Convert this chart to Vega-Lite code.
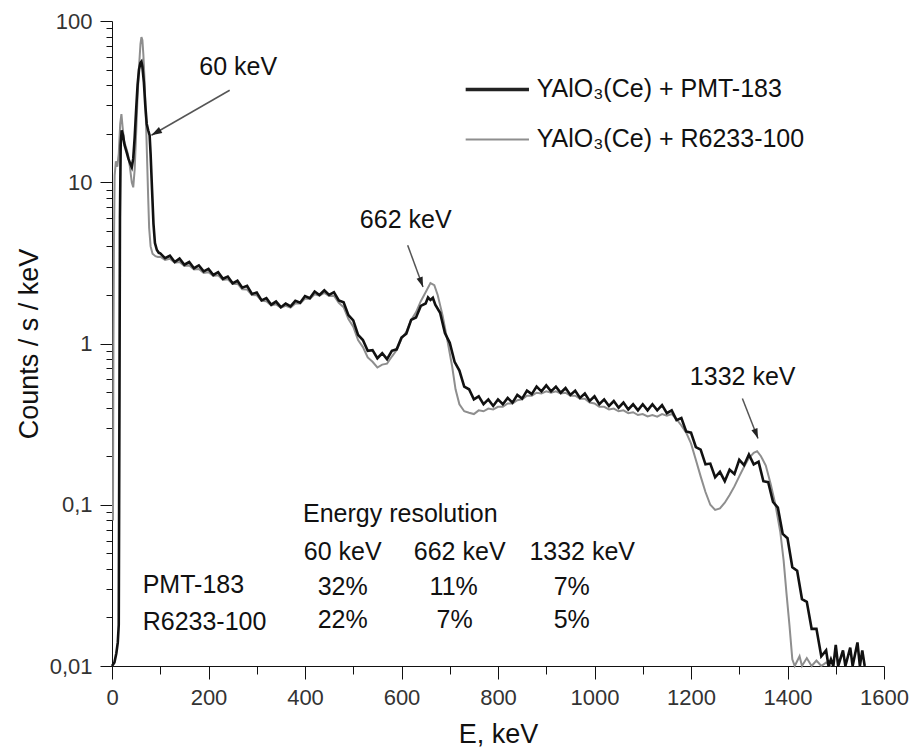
{
  "$schema": "https://vega.github.io/schema/vega-lite/v6.json",
  "width": 772,
  "height": 645,
  "autosize": {"type": "none"},
  "padding": {"left": 112, "top": 21, "right": 30, "bottom": 85},
  "view": {"stroke": null},
  "resolve": {"axis": {"x": "independent", "y": "independent"}},
  "datasets": {
    "black": [
      {"E":0,"V":0.01},{"E":5,"V":0.0105},{"E":9,"V":0.012},{"E":12,"V":0.014},{"E":14,"V":0.018},{"E":15.5,"V":0.5},{"E":16.5,"V":6},{"E":18,"V":17},{"E":20,"V":21},{"E":23,"V":19.5},{"E":26,"V":17},{"E":30,"V":15.5},{"E":34,"V":14},{"E":38,"V":13},{"E":41,"V":12.4},{"E":44,"V":14},{"E":47,"V":19},{"E":50,"V":28},{"E":53,"V":40},{"E":56,"V":50},{"E":59,"V":55},{"E":61,"V":56},{"E":63,"V":52},{"E":66,"V":42},{"E":69,"V":30},{"E":72,"V":23},{"E":75,"V":21},{"E":78,"V":19.5},{"E":80,"V":15},{"E":83,"V":9},{"E":86,"V":5.5},{"E":89,"V":4.2},{"E":93,"V":3.8},{"E":97,"V":3.65},
      {"E":100,"V":3.62},{"E":110,"V":3.38},{"E":120,"V":3.5},{"E":130,"V":3.2},{"E":140,"V":3.36},{"E":150,"V":3.08},{"E":160,"V":3.2},{"E":170,"V":2.93},{"E":180,"V":3.05},{"E":190,"V":2.8},{"E":200,"V":2.9},{"E":210,"V":2.66},{"E":220,"V":2.77},{"E":230,"V":2.52},{"E":240,"V":2.6},{"E":250,"V":2.36},{"E":260,"V":2.45},{"E":270,"V":2.22},{"E":280,"V":2.28},{"E":290,"V":2.03},{"E":300,"V":2.07},{"E":310,"V":1.85},{"E":320,"V":1.91},{"E":330,"V":1.74},{"E":340,"V":1.82},{"E":350,"V":1.68},{"E":360,"V":1.77},{"E":370,"V":1.7},{"E":380,"V":1.84},{"E":390,"V":1.79},{"E":400,"V":1.97},{"E":410,"V":1.91},{"E":420,"V":2.1},{"E":430,"V":2.0},{"E":440,"V":2.14},{"E":450,"V":2.0},{"E":460,"V":2.08},{"E":470,"V":1.85},{"E":480,"V":1.8},{"E":490,"V":1.5},{"E":500,"V":1.39},{"E":510,"V":1.13},{"E":520,"V":1.05},{"E":530,"V":0.9},{"E":540,"V":0.91},{"E":550,"V":0.81},{"E":560,"V":0.87},{"E":570,"V":0.8},{"E":580,"V":0.9},{"E":590,"V":0.92},{"E":600,"V":1.09},{"E":610,"V":1.15},{"E":620,"V":1.4},{"E":630,"V":1.45},{"E":640,"V":1.71},{"E":650,"V":1.77},{"E":655,"V":1.93},{"E":660,"V":1.86},{"E":665,"V":1.92},{"E":670,"V":1.74},{"E":680,"V":1.55},{"E":690,"V":1.16},{"E":700,"V":1.01},{"E":710,"V":0.77},{"E":720,"V":0.68},{"E":730,"V":0.54},{"E":740,"V":0.52},{"E":750,"V":0.45},{"E":760,"V":0.47},{"E":770,"V":0.42},{"E":780,"V":0.45},{"E":790,"V":0.41},{"E":800,"V":0.45},{"E":810,"V":0.42},{"E":820,"V":0.46},{"E":830,"V":0.43},{"E":840,"V":0.48},{"E":850,"V":0.455},{"E":860,"V":0.51},{"E":870,"V":0.485},{"E":880,"V":0.54},{"E":890,"V":0.505},{"E":900,"V":0.55},{"E":910,"V":0.505},{"E":920,"V":0.54},{"E":930,"V":0.495},{"E":940,"V":0.53},{"E":950,"V":0.48},{"E":960,"V":0.51},{"E":970,"V":0.46},{"E":980,"V":0.49},{"E":990,"V":0.44},{"E":1000,"V":0.47},{"E":1010,"V":0.42},{"E":1020,"V":0.45},{"E":1030,"V":0.41},{"E":1040,"V":0.44},{"E":1050,"V":0.4},{"E":1060,"V":0.43},{"E":1070,"V":0.39},{"E":1080,"V":0.42},{"E":1090,"V":0.385},{"E":1100,"V":0.42},{"E":1110,"V":0.385},{"E":1120,"V":0.42},{"E":1130,"V":0.385},{"E":1140,"V":0.415},{"E":1150,"V":0.37},{"E":1160,"V":0.385},{"E":1170,"V":0.335},{"E":1180,"V":0.345},{"E":1190,"V":0.285},{"E":1200,"V":0.28},{"E":1210,"V":0.228},{"E":1220,"V":0.22},{"E":1230,"V":0.178},{"E":1240,"V":0.18},{"E":1250,"V":0.148},{"E":1260,"V":0.16},{"E":1270,"V":0.14},{"E":1280,"V":0.165},{"E":1290,"V":0.155},{"E":1300,"V":0.19},{"E":1310,"V":0.176},{"E":1320,"V":0.205},{"E":1330,"V":0.178},{"E":1340,"V":0.185},{"E":1350,"V":0.14},{"E":1360,"V":0.138},{"E":1370,"V":0.104},{"E":1380,"V":0.096},{"E":1390,"V":0.066},{"E":1400,"V":0.062},{"E":1410,"V":0.041},{"E":1420,"V":0.039},{"E":1430,"V":0.026},{"E":1440,"V":0.025},{"E":1450,"V":0.017},{"E":1460,"V":0.017},{"E":1470,"V":0.0115},{"E":1480,"V":0.0125},{"E":1485,"V":0.01},{"E":1490,"V":0.011},{"E":1495,"V":0.01},{"E":1500,"V":0.0135},{"E":1505,"V":0.01},{"E":1515,"V":0.0125},{"E":1520,"V":0.01},{"E":1530,"V":0.013},{"E":1535,"V":0.01},{"E":1545,"V":0.014},{"E":1550,"V":0.01},{"E":1555,"V":0.0125},{"E":1560,"V":0.01}
    ],
    "gray": [
      {"E":2,"V":0.08},{"E":3,"V":1},{"E":4,"V":4},{"E":5.5,"V":11},{"E":8,"V":13.5},{"E":11,"V":12.5},{"E":14,"V":15},{"E":17,"V":23},{"E":19.5,"V":26.5},{"E":22,"V":22},{"E":25,"V":18},{"E":29,"V":16.5},{"E":33,"V":15},{"E":37,"V":12.5},{"E":41,"V":10},{"E":44,"V":9.3},{"E":47,"V":12},{"E":50,"V":20},{"E":53,"V":34},{"E":56,"V":52},{"E":59,"V":72},{"E":61,"V":79.5},{"E":63,"V":76},{"E":65,"V":62},{"E":67,"V":46},{"E":69,"V":32},{"E":71,"V":21},{"E":73,"V":13},{"E":75,"V":8},{"E":77,"V":5.2},{"E":80,"V":4},{"E":84,"V":3.6},{"E":90,"V":3.48},{"E":95,"V":3.44},
      {"E":100,"V":3.45},{"E":110,"V":3.3},{"E":120,"V":3.35},{"E":130,"V":3.17},{"E":140,"V":3.2},{"E":150,"V":3.03},{"E":160,"V":3.05},{"E":170,"V":2.88},{"E":180,"V":2.9},{"E":190,"V":2.74},{"E":200,"V":2.77},{"E":210,"V":2.62},{"E":220,"V":2.65},{"E":230,"V":2.48},{"E":240,"V":2.5},{"E":250,"V":2.34},{"E":260,"V":2.35},{"E":270,"V":2.17},{"E":280,"V":2.16},{"E":290,"V":2.0},{"E":300,"V":1.99},{"E":310,"V":1.84},{"E":320,"V":1.83},{"E":330,"V":1.72},{"E":340,"V":1.75},{"E":350,"V":1.67},{"E":360,"V":1.71},{"E":370,"V":1.67},{"E":380,"V":1.77},{"E":390,"V":1.77},{"E":400,"V":1.9},{"E":410,"V":1.89},{"E":420,"V":2.02},{"E":430,"V":1.98},{"E":440,"V":2.06},{"E":450,"V":1.97},{"E":460,"V":1.98},{"E":470,"V":1.79},{"E":480,"V":1.68},{"E":490,"V":1.42},{"E":500,"V":1.27},{"E":510,"V":1.05},{"E":520,"V":0.95},{"E":530,"V":0.82},{"E":540,"V":0.77},{"E":550,"V":0.71},{"E":560,"V":0.74},{"E":570,"V":0.75},{"E":580,"V":0.83},{"E":590,"V":0.91},{"E":600,"V":1.07},{"E":610,"V":1.18},{"E":620,"V":1.4},{"E":630,"V":1.56},{"E":640,"V":1.83},{"E":650,"V":2.08},{"E":660,"V":2.37},{"E":668,"V":2.3},{"E":675,"V":2.0},{"E":685,"V":1.5},{"E":695,"V":1.05},{"E":705,"V":0.72},{"E":712,"V":0.52},{"E":720,"V":0.42},{"E":730,"V":0.38},{"E":740,"V":0.372},{"E":750,"V":0.365},{"E":760,"V":0.385},{"E":770,"V":0.38},{"E":780,"V":0.395},{"E":790,"V":0.39},{"E":800,"V":0.405},{"E":810,"V":0.405},{"E":820,"V":0.425},{"E":830,"V":0.425},{"E":840,"V":0.445},{"E":850,"V":0.45},{"E":860,"V":0.475},{"E":870,"V":0.475},{"E":880,"V":0.495},{"E":890,"V":0.49},{"E":900,"V":0.505},{"E":910,"V":0.495},{"E":920,"V":0.505},{"E":930,"V":0.49},{"E":940,"V":0.495},{"E":950,"V":0.475},{"E":960,"V":0.475},{"E":970,"V":0.455},{"E":980,"V":0.455},{"E":990,"V":0.43},{"E":1000,"V":0.425},{"E":1010,"V":0.405},{"E":1020,"V":0.405},{"E":1030,"V":0.39},{"E":1040,"V":0.395},{"E":1050,"V":0.38},{"E":1060,"V":0.385},{"E":1070,"V":0.37},{"E":1080,"V":0.375},{"E":1090,"V":0.36},{"E":1100,"V":0.365},{"E":1110,"V":0.353},{"E":1120,"V":0.36},{"E":1130,"V":0.352},{"E":1140,"V":0.365},{"E":1150,"V":0.357},{"E":1160,"V":0.365},{"E":1170,"V":0.34},{"E":1180,"V":0.31},{"E":1190,"V":0.28},{"E":1200,"V":0.24},{"E":1210,"V":0.19},{"E":1220,"V":0.15},{"E":1230,"V":0.12},{"E":1240,"V":0.1},{"E":1250,"V":0.093},{"E":1260,"V":0.095},{"E":1270,"V":0.103},{"E":1280,"V":0.115},{"E":1290,"V":0.13},{"E":1300,"V":0.15},{"E":1310,"V":0.172},{"E":1320,"V":0.195},{"E":1330,"V":0.21},{"E":1337,"V":0.215},{"E":1345,"V":0.2},{"E":1355,"V":0.175},{"E":1365,"V":0.135},{"E":1375,"V":0.1},{"E":1385,"V":0.068},{"E":1392,"V":0.045},{"E":1398,"V":0.028},{"E":1404,"V":0.018},{"E":1410,"V":0.011},{"E":1415,"V":0.01},{"E":1425,"V":0.0115},{"E":1430,"V":0.01},{"E":1440,"V":0.0112},{"E":1450,"V":0.01},{"E":1460,"V":0.0108},{"E":1470,"V":0.01},{"E":1480,"V":0.0105},{"E":1490,"V":0.01}
    ],
    "arrows": [
      {"a":"60","E":243.9,"V":37.19,"E2":81.7,"V2":19.56},
      {"a":"662","E":612.8,"V":4.07,"E2":644.6,"V2":2.243},
      {"a":"1332","E":1306.5,"V":0.456,"E2":1338.9,"V2":0.2576}
    ],
    "legBlack": [{"E":733,"E2":864.2,"V":37.56}],
    "legGray": [{"E":733,"E2":864.2,"V":18.39}],
    "txtCenter": [
      {"E":261.6,"V":46.07,"t":"60 keV"},
      {"E":608.7,"V":5.186,"t":"662 keV"},
      {"E":1307.1,"V":0.5513,"t":"1332 keV"},
      {"E":478.1,"V":0.04534,"t":"60 keV"},
      {"E":720.6,"V":0.04534,"t":"662 keV"},
      {"E":974.5,"V":0.04534,"t":"1332 keV"},
      {"E":478.1,"V":0.02754,"t":"32%"},
      {"E":708.2,"V":0.02754,"t":"11%"},
      {"E":952.8,"V":0.02754,"t":"7%"},
      {"E":478.1,"V":0.01717,"t":"22%"},
      {"E":710.2,"V":0.01717,"t":"7%"},
      {"E":952.8,"V":0.01717,"t":"5%"}
    ],
    "txtLeft": [
      {"E":880.2,"V":33.65,"t":"YAlO₃(Ce) + PMT-183"},
      {"E":880.2,"V":16.48,"t":"YAlO₃(Ce) + R6233-100"},
      {"E":395.9,"V":0.078,"t":"Energy resolution"},
      {"E":63.6,"V":0.02831,"t":"PMT-183"},
      {"E":63.6,"V":0.0167,"t":"R6233-100"}
    ]
  },
  "layer": [
    {
      "data": {"name": "gray"},
      "mark": {"type": "line", "color": "#8e8e8e", "strokeWidth": 2},
      "encoding": {
        "x": {"field": "E", "type": "quantitative", "scale": {"domain": [0, 1600], "nice": false, "zero": false},
          "axis": {"grid": false, "title": "E, keV", "values": [0,200,400,600,800,1000,1200,1400,1600], "format": "d",
            "tickSize": 13, "tickColor": "#111", "domainColor": "#111",
            "labelFont": "Liberation Sans", "labelFontSize": 22, "labelColor": "#333", "labelPadding": 8, "labelFlush": false,
            "titleFont": "Liberation Sans", "titleFontSize": 27, "titleFontWeight": "normal", "titleColor": "#111", "titlePadding": 13}},
        "y": {"field": "V", "type": "quantitative", "scale": {"type": "log", "domain": [0.01, 100], "nice": false},
          "axis": {"grid": false, "title": "Counts / s / keV",
            "values": [0.01,0.1,1,10,100],
            "labelExpr": "datum.value == 0.01 ? '0,01' : datum.value == 0.1 ? '0,1' : datum.value == 1 ? '1' : datum.value == 10 ? '10' : '100'",
            "tickSize": 12, "tickColor": "#111", "domainColor": "#111",
            "labelFont": "Liberation Sans", "labelFontSize": 22, "labelColor": "#333", "labelPadding": 8, "labelFlush": false,
            "titleFont": "Liberation Sans", "titleFontSize": 27, "titleFontWeight": "normal", "titleColor": "#111", "titlePadding": 6}}
      }
    },
    {
      "data": {"name": "black"},
      "mark": {"type": "line", "color": "#111", "strokeWidth": 2.6},
      "encoding": {
        "x": {"field": "E", "type": "quantitative",
          "axis": {"orient": "bottom", "grid": false, "title": null, "values": [100,300,500,700,900,1100,1300,1500], "labels": false, "domain": false,
            "tickSize": 8, "tickColor": "#111"}},
        "y": {"field": "V", "type": "quantitative",
          "axis": {"orient": "left", "grid": false, "title": null, "labels": false, "domain": false, "tickSize": 6, "tickColor": "#111",
            "values": [0.02,0.03,0.04,0.05,0.06,0.07,0.08,0.09,0.2,0.3,0.4,0.5,0.6,0.7,0.8,0.9,2,3,4,5,6,7,8,9,20,30,40,50,60,70,80,90]}}
      }
    },
    {
      "data": {"name": "arrows"},
      "mark": {"type": "rule", "color": "#555", "strokeWidth": 1.5},
      "encoding": {
        "x": {"field": "E", "type": "quantitative", "axis": null},
        "y": {"field": "V", "type": "quantitative", "axis": null},
        "x2": {"field": "E2"},
        "y2": {"field": "V2"}
      }
    },
    {
      "data": {"name": "arrows"},
      "transform": [{"filter": "datum.a == '60'"}],
      "mark": {"type": "point", "shape": "M0,0L-0.32,1L0.32,1Z", "filled": true, "color": "#222", "opacity": 1, "size": 450, "angle": 240},
      "encoding": {"x": {"field": "E2", "type": "quantitative", "axis": null}, "y": {"field": "V2", "type": "quantitative", "axis": null}}
    },
    {
      "data": {"name": "arrows"},
      "transform": [{"filter": "datum.a == '662'"}],
      "mark": {"type": "point", "shape": "M0,0L-0.32,1L0.32,1Z", "filled": true, "color": "#222", "opacity": 1, "size": 400, "angle": 160},
      "encoding": {"x": {"field": "E2", "type": "quantitative", "axis": null}, "y": {"field": "V2", "type": "quantitative", "axis": null}}
    },
    {
      "data": {"name": "arrows"},
      "transform": [{"filter": "datum.a == '1332'"}],
      "mark": {"type": "point", "shape": "M0,0L-0.32,1L0.32,1Z", "filled": true, "color": "#222", "opacity": 1, "size": 400, "angle": 159},
      "encoding": {"x": {"field": "E2", "type": "quantitative", "axis": null}, "y": {"field": "V2", "type": "quantitative", "axis": null}}
    },
    {
      "data": {"name": "legBlack"},
      "mark": {"type": "rule", "color": "#222", "strokeWidth": 3.5},
      "encoding": {"x": {"field": "E", "type": "quantitative", "axis": null}, "x2": {"field": "E2"}, "y": {"field": "V", "type": "quantitative", "axis": null}}
    },
    {
      "data": {"name": "legGray"},
      "mark": {"type": "rule", "color": "#8e8e8e", "strokeWidth": 2},
      "encoding": {"x": {"field": "E", "type": "quantitative", "axis": null}, "x2": {"field": "E2"}, "y": {"field": "V", "type": "quantitative", "axis": null}}
    },
    {
      "data": {"name": "txtCenter"},
      "mark": {"type": "text", "align": "center", "baseline": "alphabetic", "fontSize": 25, "color": "#111", "font": "Liberation Sans"},
      "encoding": {"x": {"field": "E", "type": "quantitative", "axis": null}, "y": {"field": "V", "type": "quantitative", "axis": null}, "text": {"field": "t"}}
    },
    {
      "data": {"name": "txtLeft"},
      "mark": {"type": "text", "align": "left", "baseline": "alphabetic", "fontSize": 25, "color": "#111", "font": "Liberation Sans"},
      "encoding": {"x": {"field": "E", "type": "quantitative", "axis": null}, "y": {"field": "V", "type": "quantitative", "axis": null}, "text": {"field": "t"}}
    }
  ]
}
